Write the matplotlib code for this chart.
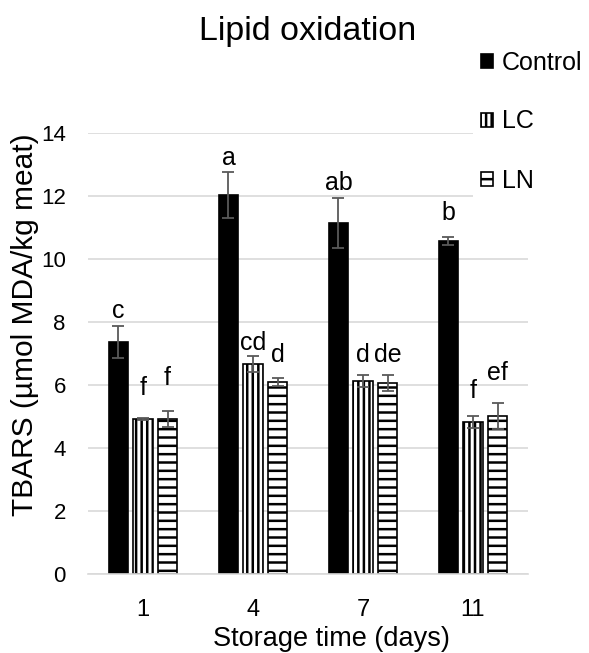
import numpy as np
import matplotlib.pyplot as plt

plt.rcParams['font.family'] = ['Liberation Sans', 'DejaVu Sans']
plt.rcParams['hatch.linewidth'] = 1.8

# data
days = ['1', '4', '7', '11']
series = ['Control', 'LC', 'LN']
control = [7.37, 12.03, 11.14, 10.57]
control_err = [0.51, 0.72, 0.80, 0.14]
lc = [4.92, 6.67, 6.13, 4.83]
lc_err = [0.02, 0.25, 0.19, 0.20]
ln = [4.92, 6.10, 6.06, 5.02]
ln_err = [0.24, 0.13, 0.26, 0.42]
control_letters = ['c', 'a', 'ab', 'b']
lc_letters = ['f', 'cd', 'd', 'f']
ln_letters = ['f', 'd', 'de', 'ef']
control_letter_y = [8.13, 12.98, 12.19, 11.24]
lc_letter_y = [5.68, 7.11, 6.73, 5.59]
ln_letter_y = [6.0, 6.73, 6.73, 6.16]

fig = plt.figure(figsize=(5.89, 6.53), dpi=100)
ax = fig.add_axes([88/589, 1-574/653, 440/589, 441/653])

x = np.arange(len(days))
w = 0.173
offs = [-0.223, 0.0, 0.223]
vals = [control, lc, ln]
errs = [control_err, lc_err, ln_err]
letters = [control_letters, lc_letters, ln_letters]
letter_y = [control_letter_y, lc_letter_y, ln_letter_y]
fills = ['black', 'white', 'white']
hatches = [None, '|||', '--']

handles = []
for i in range(3):
    b = ax.bar(x + offs[i], vals[i], w, color=fills[i], edgecolor='black',
               hatch=hatches[i], linewidth=1.2, label=series[i], zorder=2)
    handles.append(b)
    ax.errorbar(x + offs[i], vals[i], yerr=errs[i], fmt='none', ecolor='#595959',
                elinewidth=1.3, capsize=4, capthick=1.3, zorder=3)
    for j in range(len(days)):
        ax.text(x[j] + offs[i], letter_y[i][j], letters[i][j], ha='center',
                va='baseline', fontsize=18, color='black')

ax.set_xlim(-0.5, 3.5)
ax.set_ylim(0, 14)
ax.set_yticks(range(0, 15, 2))
ax.set_xticks(x)
ax.set_xticklabels(days)
ax.yaxis.grid(True, color='#d9d9d9', linewidth=1.2)
ax.set_axisbelow(True)
for s in ['top', 'right', 'left']:
    ax.spines[s].set_visible(False)
ax.spines['bottom'].set_color('#d9d9d9')
ax.spines['bottom'].set_linewidth(1.2)
ax.tick_params(axis='both', length=0)
ax.tick_params(axis='y', labelsize=16, pad=16)
ax.tick_params(axis='x', labelsize=17, pad=18)

ax.set_xlabel('Storage time (days)', fontsize=19.5)
ax.xaxis.set_label_coords((331-88)/440, -0.118)
ax.set_ylabel('TBARS (µmol MDA/kg meat)', fontsize=21.5)
ax.yaxis.set_label_coords(-0.111, 0.565)

fig.text(308/589, 1-40/653, 'Lipid oxidation', ha='center', va='baseline', fontsize=24.5)

ax.legend(handles, series, loc='upper left', bbox_to_anchor=(473/589, 1-43/653),
          bbox_transform=fig.transFigure, frameon=True, facecolor='white',
          edgecolor='none', framealpha=1, fancybox=False, fontsize=18,
          handlelength=0.5, handleheight=0.5, handletextpad=0.35,
          labelspacing=1.4, borderpad=0.3, borderaxespad=0)

fig.savefig('out.png', dpi=100)
